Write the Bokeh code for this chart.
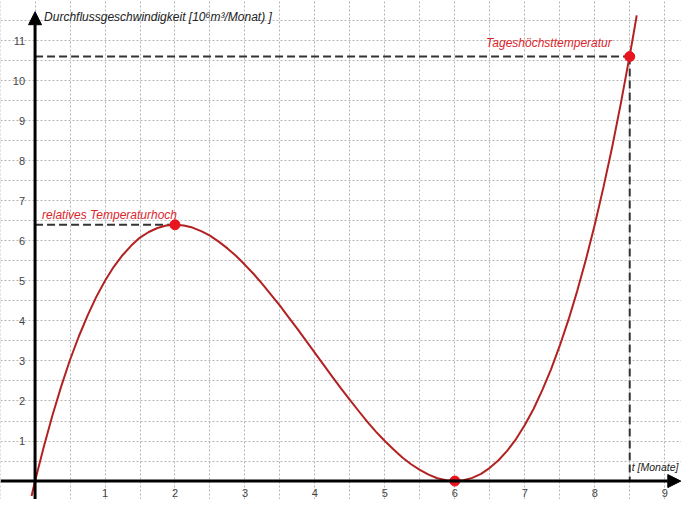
from bokeh.plotting import figure
from bokeh.models import Range1d, FixedTicker, Label, Arrow, NormalHead
from bokeh.embed import file_html
from bokeh.resources import INLINE

# curve
t_vals = [-0.05, 0.0, 0.125, 0.25, 0.375, 0.5, 0.625, 0.75, 0.875, 1.0, 1.125, 1.25, 1.375,
          1.5, 1.625, 1.75, 1.875, 2.0, 2.125, 2.25, 2.375, 2.5, 2.625, 2.75, 2.875, 3.0,
          3.125, 3.25, 3.375, 3.5, 3.625, 3.75, 3.875, 4.0, 4.125, 4.25, 4.375, 4.5, 4.625,
          4.75, 4.875, 5.0, 5.125, 5.25, 5.375, 5.5, 5.625, 5.75, 5.875, 6.0, 6.125, 6.25,
          6.375, 6.5, 6.625, 6.75, 6.875, 7.0, 7.125, 7.25, 7.375, 7.5, 7.625, 7.75, 7.875,
          8.0, 8.125, 8.25, 8.375, 8.5, 8.55, 8.6]
q_vals = [-0.37, 0.0, 0.86, 1.65, 2.37, 3.03, 3.61, 4.13, 4.60, 5.0, 5.35, 5.64, 5.88,
          6.08, 6.22, 6.32, 6.38, 6.4, 6.38, 6.33, 6.24, 6.13, 5.98, 5.81, 5.62, 5.4,
          5.17, 4.92, 4.65, 4.38, 4.09, 3.80, 3.50, 3.2, 2.90, 2.60, 2.31, 2.03, 1.75,
          1.48, 1.23, 1.0, 0.79, 0.59, 0.42, 0.28, 0.16, 0.07, 0.02, 0.0, 0.02, 0.08,
          0.18, 0.33, 0.52, 0.76, 1.05, 1.4, 1.80, 2.27, 2.79, 3.38, 4.03, 4.75, 5.54,
          6.4, 7.34, 8.35, 9.45, 10.63, 11.12, 11.63]

# marked points
pt_t = [2, 6, 8.5]
pt_q = [6.4, 0, 10.6]

x_ticks = [1, 2, 3, 4, 5, 6, 7, 8, 9]
y_ticks = [1, 2, 3, 4, 5, 6, 7, 8, 9, 10, 11]
grid_x = [i * 0.5 for i in range(-1, 20)]
grid_y = [i * 0.5 for i in range(-1, 25)]

title_text = "Durchflussgeschwindigkeit [10\u2076m\u00b3/Monat) ]"
xlabel_text = "t [Monate]"
max_text = "relatives Temperaturhoch"
top_text = "Tageshöchsttemperatur"

X0, X1 = -0.494, 9.24
Y0, Y1 = -0.46, 12.0

p = figure(width=681, height=499, x_range=Range1d(X0, X1), y_range=Range1d(Y0, Y1),
           output_backend="svg", toolbar_location=None, min_border=0)
p.outline_line_color = None
p.background_fill_color = "white"

# grid
p.xgrid.ticker = FixedTicker(ticks=grid_x)
p.ygrid.ticker = FixedTicker(ticks=grid_y)
for g in (p.xgrid, p.ygrid):
    g.grid_line_color = "#b4b4b4"
    g.grid_line_dash = "2 2"
    g.grid_line_width = 1

# axes through origin
p.xaxis.fixed_location = 0
p.yaxis.fixed_location = 0
p.xaxis.ticker = FixedTicker(ticks=x_ticks)
p.yaxis.ticker = FixedTicker(ticks=y_ticks)
for ax in (p.xaxis, p.yaxis):
    ax.axis_line_color = None
    ax.major_tick_line_color = None
    ax.minor_tick_line_color = None
    ax.major_label_text_font = "Liberation Sans"
    ax.major_label_text_font_size = "11px"
    ax.major_label_text_color = "#444444"
p.xaxis.major_label_standoff = 2
p.yaxis.major_label_standoff = 4

# axis arrows
p.add_layout(Arrow(end=NormalHead(size=13, fill_color="black", line_color="black"),
                   x_start=X0, y_start=0, x_end=9.23, y_end=0,
                   line_color="black", line_width=3))
p.add_layout(Arrow(end=NormalHead(size=13, fill_color="black", line_color="black"),
                   x_start=0, y_start=Y0, x_end=0, y_end=11.72,
                   line_color="black", line_width=3))

# dashed helper lines
p.line([0, pt_t[0]], [pt_q[0], pt_q[0]], line_color="#333333", line_width=2, line_dash="8 4")
p.line([0, pt_t[2]], [pt_q[2], pt_q[2]], line_color="#333333", line_width=2, line_dash="8 4")
p.line([pt_t[2], pt_t[2]], [pt_q[2], 0], line_color="#333333", line_width=2, line_dash="8 4")

# curve
p.line(t_vals, q_vals, line_color="#b22222", line_width=2, line_join="round")

# points
p.scatter(pt_t, pt_q, size=10, fill_color="#e8141e", line_color="#e8141e")

# texts
p.add_layout(Label(x=0, y=11.6, x_offset=9, text=title_text, text_font="Liberation Sans",
                   text_font_style="italic", text_font_size="12px", text_color="#222222",
                   text_baseline="middle"))
p.add_layout(Label(x=8.5, y=0.35, x_offset=2, text=xlabel_text, text_font="Liberation Sans",
                   text_font_style="italic", text_font_size="10.5px", text_color="#222222",
                   text_baseline="middle"))
p.add_layout(Label(x=0, y=6.65, x_offset=7, text=max_text, text_font="Liberation Sans",
                   text_font_style="italic", text_font_size="12px", text_color="#d9262c",
                   text_baseline="middle"))
p.add_layout(Label(x=8.5, y=10.95, x_offset=-18, text=top_text, text_font="Liberation Sans",
                   text_font_style="italic", text_font_size="12px", text_color="#d9262c",
                   text_baseline="middle", text_align="right"))

open("out.html", "w").write(file_html(p, INLINE))
